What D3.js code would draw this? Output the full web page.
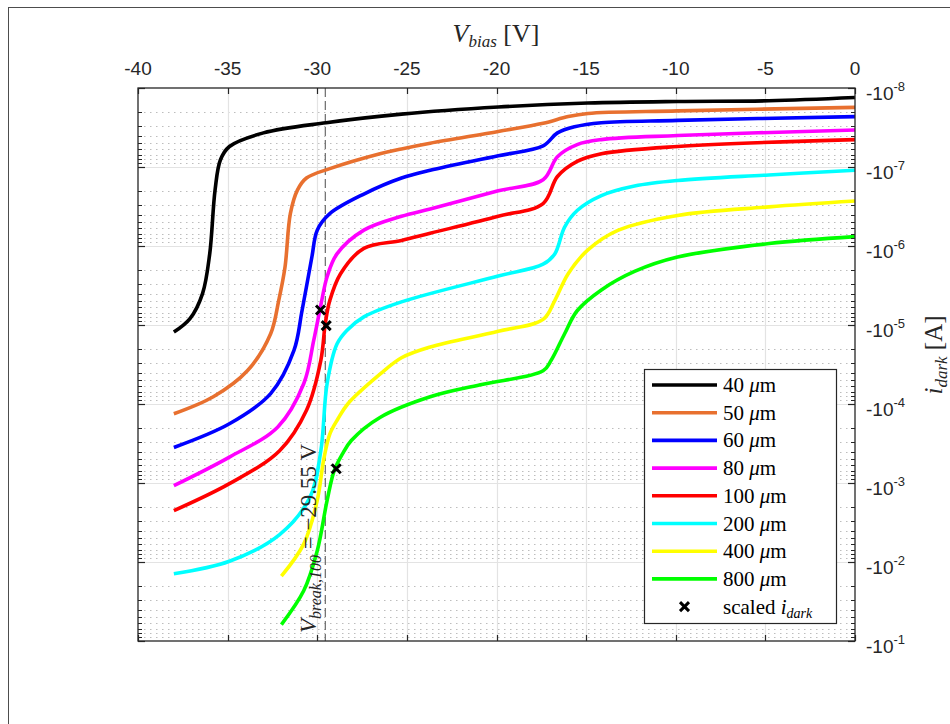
<!DOCTYPE html>
<html>
<head>
<meta charset="utf-8">
<script src="https://cdn.jsdelivr.net/npm/d3@7"></script>
<style>
  body { margin: 0; background: #fff; }
  svg { display: block; }
</style>
</head>
<body>
<script>
const W = 950, H = 724;

// axis ticks
const xTicks = [-40, -35, -30, -25, -20, -15, -10, -5, 0];
const yExps = [-8, -7, -6, -5, -4, -3, -2, -1];

// dark current curves, V_bias [V] and i_dark [A]
const v40 = [-38, -37.1, -36.4, -36.0, -35.7, -35.4, -34.9, -33.0, -29.5, -25.3, -19.9, -14.9, -9.9, -4.8, 0];
const i40 = [-1.23e-5, -8.3e-6, -4.0e-6, -1.26e-6, -1.95e-7, -8.1e-8, -5.5e-8, -3.7e-8, -2.75e-8, -2.14e-8, -1.74e-8, -1.55e-8, -1.48e-8, -1.45e-8, -1.32e-8];

const v50 = [-38, -35.8, -33.9, -32.6, -32.15, -31.8, -31.5, -31.1, -30.6, -29.3, -26.5, -25.3, -23.7, -19.9, -17.4, -16.0, -14.9, -9.9, 0];
const i50 = [-1.33e-4, -8.1e-5, -3.8e-5, -1.29e-5, -4.9e-6, -1.86e-6, -3.9e-7, -1.95e-7, -1.38e-7, -1.05e-7, -6.8e-8, -5.9e-8, -5.0e-8, -3.55e-8, -2.8e-8, -2.3e-8, -2.1e-8, -1.95e-8, -1.76e-8];

const v60 = [-38, -34.9, -32.6, -31.3, -30.85, -30.3, -30.0, -29.3, -27.4, -25.3, -23.7, -19.9, -17.4, -16.6, -15.65, -14.15, -9.9, 0];
const i60 = [-3.55e-4, -1.78e-4, -7.4e-5, -2.1e-5, -6.6e-6, -1.38e-6, -6.3e-7, -3.9e-7, -2.2e-7, -1.38e-7, -1.1e-7, -7.2e-8, -5.4e-8, -3.7e-8, -3.1e-8, -2.75e-8, -2.57e-8, -2.3e-8];

const v80 = [-38, -34.9, -32.2, -30.75, -30.2, -29.8, -29.45, -28.9, -27.4, -25.3, -23.7, -19.9, -17.4, -16.6, -15.5, -14.15, -9.9, 0];
const i80 = [-1.08e-3, -4.7e-4, -1.95e-4, -5.5e-5, -1.58e-5, -5.6e-6, -2.45e-6, -1.26e-6, -6.3e-7, -4.2e-7, -3.4e-7, -2.0e-7, -1.45e-7, -7.4e-8, -5.2e-8, -4.5e-8, -4.0e-8, -3.4e-8];

const v100 = [-38, -34.9, -32.1, -30.6, -29.8, -29.55, -29.3, -28.7, -27.4, -25.3, -23.7, -19.9, -17.4, -16.6, -15.5, -14.15, -9.9, 0];
const i100 = [-2.24e-3, -1.02e-3, -3.9e-4, -1.2e-4, -2.8e-5, -9.5e-6, -4.9e-6, -2.24e-6, -1.07e-6, -8.5e-7, -6.9e-7, -4.2e-7, -2.9e-7, -1.32e-7, -8.5e-8, -6.8e-8, -5.5e-8, -4.5e-8];

const v200 = [-38, -34.9, -32.1, -30.4, -29.8, -29.45, -28.9, -28.35, -27.4, -25.3, -19.9, -17.4, -16.75, -16.2, -15.5, -14.15, -12.3, -9.9, -4.8, 0];
const i200 = [-1.41e-2, -9.8e-3, -4.5e-3, -1.51e-3, -3.9e-4, -5.5e-5, -1.74e-5, -1.17e-5, -7.9e-6, -5.1e-6, -2.4e-6, -1.7e-6, -1.26e-6, -5.75e-7, -3.55e-7, -2.3e-7, -1.74e-7, -1.48e-7, -1.26e-7, -1.1e-7];

const v400 = [-32, -30.75, -30.0, -29.65, -29.3, -28.85, -28.3, -26.5, -25.3, -23.7, -19.9, -17.4, -16.75, -16.0, -14.9, -13.2, -9.9, -4.8, 0];
const i400 = [-1.51e-2, -5.9e-3, -1.66e-3, -5.2e-4, -2.4e-4, -1.55e-4, -1.0e-4, -4.2e-5, -2.6e-5, -1.9e-5, -1.2e-5, -8.5e-6, -4.9e-6, -2.24e-6, -1.12e-6, -6.3e-7, -4.1e-7, -3.2e-7, -2.7e-7];

const v800 = [-32, -30.75, -30.0, -29.45, -29.05, -28.6, -28.1, -26.5, -23.7, -20.9, -17.4, -16.95, -16.2, -15.5, -14.15, -12.3, -9.9, -4.8, 0];
const i800 = [-6.2e-2, -2.3e-2, -7.2e-3, -1.66e-3, -6.9e-4, -4.3e-4, -2.9e-4, -1.48e-4, -8.1e-5, -5.7e-5, -3.8e-5, -2.8e-5, -1.29e-5, -6.6e-6, -3.6e-6, -2.1e-6, -1.38e-6, -9.3e-7, -7.6e-7];

// scaled i_dark markers
const markV = [-29.82, -29.5, -28.94];
const markI = [-6.45e-6, -1.02e-5, -6.6e-4];

const vBreak = -29.55;

const labels = ["40", "50", "60", "80", "100", "200", "400", "800"];
const colors = ["#000000", "#E8702F", "#0000FF", "#FF00FF", "#FF0000", "#00FFFF", "#FFFF00", "#00FF00"];
const allV = [v40, v50, v60, v80, v100, v200, v400, v800];
const allI = [i40, i50, i60, i80, i100, i200, i400, i800];

const series = labels.map((l, k) => ({
  label: l,
  color: colors[k],
  pts: allV[k].map((v, j) => ({ v: v, i: allI[k][j] }))
}));

const pl = 138, pr = 855, pt = 88, pb = 641;

const x = d3.scaleLinear().domain([-40, 0]).range([pl, pr]);
// magnitude on log scale, -1e-8 at top
const y = d3.scaleLog().domain([1e-8, 1e-1]).range([pt, pb]);

const svg = d3.select("body").append("svg")
  .attr("width", W).attr("height", H);

// figure frame
svg.append("rect")
  .attr("x", 8.5).attr("y", 7.5)
  .attr("width", 1000).attr("height", 1000)
  .attr("fill", "none").attr("stroke", "#4d4d4d").attr("stroke-width", 1);

const plot = svg.append("g");

plot.append("rect")
  .attr("x", pl).attr("y", pt)
  .attr("width", pr - pl).attr("height", pb - pt)
  .attr("fill", "#fff");

// minor grid (dotted)
let minors = [];
yExps.forEach(e => {
  if (e === -1) return;
  for (let k = 2; k <= 9; k++) minors.push(k * Math.pow(10, e));
});
plot.selectAll(".minor").data(minors).enter().append("line")
  .attr("x1", pl).attr("x2", pr)
  .attr("y1", d => Math.round(y(d)) + 0.5).attr("y2", d => Math.round(y(d)) + 0.5)
  .attr("stroke", "#bdbdbd").attr("stroke-width", 1)
  .attr("stroke-dasharray", "1.5,4.5");

// major grid
plot.selectAll(".gx").data(xTicks.slice(1, -1)).enter().append("line")
  .attr("x1", d => Math.round(x(d)) + 0.5).attr("x2", d => Math.round(x(d)) + 0.5)
  .attr("y1", pt).attr("y2", pb)
  .attr("stroke", "#e3e3e3").attr("stroke-width", 1.2);
plot.selectAll(".gy").data(yExps.slice(1, -1)).enter().append("line")
  .attr("x1", pl).attr("x2", pr)
  .attr("y1", d => Math.round(y(Math.pow(10, d))) + 0.5)
  .attr("y2", d => Math.round(y(Math.pow(10, d))) + 0.5)
  .attr("stroke", "#e3e3e3").attr("stroke-width", 1.2);

// breakdown line
plot.append("line")
  .attr("x1", x(vBreak)).attr("x2", x(vBreak))
  .attr("y1", pt).attr("y2", pb)
  .attr("stroke", "#6a6a6a").attr("stroke-width", 1.2)
  .attr("stroke-dasharray", "9,4");

// curves
const line = d3.line()
  .x(d => x(d.v))
  .y(d => y(Math.abs(d.i)))
  .curve(d3.curveCatmullRom.alpha(0.5));

plot.selectAll(".curve").data(series).enter().append("path")
  .attr("d", d => line(d.pts))
  .attr("fill", "none")
  .attr("stroke", d => d.color)
  .attr("stroke-width", 3.6)
  .attr("stroke-linejoin", "round");

// x markers
function cross(g, cx, cy, s) {
  g.append("path")
    .attr("d", `M${cx - s},${cy - s}L${cx + s},${cy + s}M${cx - s},${cy + s}L${cx + s},${cy - s}`)
    .attr("stroke", "#000").attr("stroke-width", 3).attr("fill", "none");
}
markV.forEach((v, k) => cross(plot, x(v), y(Math.abs(markI[k])), 4.5));

// annotation along breakdown line
const ann = svg.append("text")
  .attr("transform", `translate(${x(vBreak) - 9},633) rotate(-90)`)
  .attr("font-family", "'Liberation Serif', 'DejaVu Serif', serif")
  .attr("font-size", 23).attr("fill", "#262626");
ann.append("tspan").attr("font-style", "italic").text("V");
ann.append("tspan").attr("font-style", "italic").attr("font-size", 16).attr("dy", 5).text("break,100");
ann.append("tspan").attr("dy", -5).text(" = \u221229.55 V");

// axes box
plot.append("rect")
  .attr("x", pl).attr("y", pt)
  .attr("width", pr - pl).attr("height", pb - pt)
  .attr("fill", "none").attr("stroke", "#262626").attr("stroke-width", 1.3);

// x ticks top and bottom (inward)
xTicks.forEach(t => {
  const px = Math.round(x(t)) + 0.5;
  plot.append("line").attr("x1", px).attr("x2", px).attr("y1", pt).attr("y2", pt + 6)
    .attr("stroke", "#262626").attr("stroke-width", 1.2);
  plot.append("line").attr("x1", px).attr("x2", px).attr("y1", pb).attr("y2", pb - 6)
    .attr("stroke", "#262626").attr("stroke-width", 1.2);
});
// y ticks both sides
yExps.forEach(e => {
  const py = Math.round(y(Math.pow(10, e))) + 0.5;
  [[pr, -7], [pl, 7]].forEach(([sx, d]) => {
    plot.append("line").attr("x1", sx).attr("x2", sx + d).attr("y1", py).attr("y2", py)
      .attr("stroke", "#262626").attr("stroke-width", 1.2);
  });
});
minors.forEach(m => {
  const py = Math.round(y(m)) + 0.5;
  [[pr, -4], [pl, 4]].forEach(([sx, d]) => {
    plot.append("line").attr("x1", sx).attr("x2", sx + d).attr("y1", py).attr("y2", py)
      .attr("stroke", "#262626").attr("stroke-width", 1);
  });
});

// x tick labels on top
svg.selectAll(".xl").data(xTicks).enter().append("text")
  .attr("x", d => x(d)).attr("y", 75)
  .attr("text-anchor", "middle")
  .attr("font-family", "'Liberation Sans', Arial, sans-serif")
  .attr("font-size", 19).attr("fill", "#262626")
  .text(d => d);

// y tick labels on right
yExps.forEach(e => {
  const t = svg.append("text")
    .attr("x", pr + 11).attr("y", y(Math.pow(10, e)) + 12)
    .attr("font-family", "'Liberation Sans', Arial, sans-serif")
    .attr("font-size", 19).attr("fill", "#262626");
  t.append("tspan").text("-10");
  t.append("tspan").attr("font-size", 13).attr("dy", -9).text(String(e));
});

// axis titles
const xt = svg.append("text")
  .attr("x", 496).attr("y", 42)
  .attr("text-anchor", "middle")
  .attr("font-family", "'Liberation Serif', 'DejaVu Serif', serif")
  .attr("font-size", 26).attr("fill", "#262626");
xt.append("tspan").attr("font-style", "italic").text("V");
xt.append("tspan").attr("font-style", "italic").attr("font-size", 17).attr("dy", 5).text("bias");
xt.append("tspan").attr("dy", -5).text(" [V]");

const yt = svg.append("text")
  .attr("transform", "translate(942,355) rotate(-90)")
  .attr("text-anchor", "middle")
  .attr("font-family", "'Liberation Serif', 'DejaVu Serif', serif")
  .attr("font-size", 25).attr("fill", "#262626");
yt.append("tspan").attr("font-style", "italic").text("i");
yt.append("tspan").attr("font-style", "italic").attr("font-size", 17).attr("dy", 5).text("dark");
yt.append("tspan").attr("dy", -5).text(" [A]");

// legend
const lg = svg.append("g");
lg.append("rect")
  .attr("x", 644.5).attr("y", 369.5).attr("width", 192).attr("height", 254)
  .attr("fill", "#fff").attr("stroke", "#262626").attr("stroke-width", 1.2);
const rowY = k => 385 + k * 27.7;
series.forEach((s, k) => {
  lg.append("line")
    .attr("x1", 652).attr("x2", 717).attr("y1", rowY(k)).attr("y2", rowY(k))
    .attr("stroke", s.color).attr("stroke-width", 3.6);
  const t = lg.append("text")
    .attr("x", 723).attr("y", rowY(k) + 7)
    .attr("font-family", "'Liberation Serif', 'DejaVu Serif', serif")
    .attr("font-size", 21).attr("fill", "#000");
  t.append("tspan").text(s.label + " ");
  t.append("tspan").attr("font-style", "italic").text("\u03bc");
  t.append("tspan").text("m");
});
cross(lg, 684.5, rowY(8), 4.5);
const st = lg.append("text")
  .attr("x", 723).attr("y", rowY(8) + 7)
  .attr("font-family", "'Liberation Serif', 'DejaVu Serif', serif")
  .attr("font-size", 21).attr("fill", "#000");
st.append("tspan").text("scaled ");
st.append("tspan").attr("font-style", "italic").text("i");
st.append("tspan").attr("font-style", "italic").attr("font-size", 14).attr("dy", 4).text("dark");
</script>
</body>
</html>
